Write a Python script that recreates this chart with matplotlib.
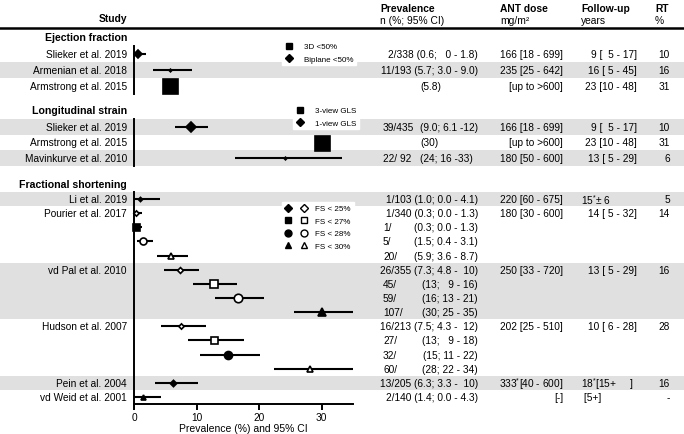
import numpy as np
import matplotlib.pyplot as plt
from matplotlib.lines import Line2D
from matplotlib.patches import Rectangle
from matplotlib.legend_handler import HandlerTuple
from matplotlib.transforms import blended_transform_factory

plt.rcParams['font.family'] = ['Liberation Sans', 'DejaVu Sans']
plt.rcParams['mathtext.fontset'] = 'custom'
plt.rcParams['mathtext.rm'] = 'Liberation Sans'
plt.rcParams['mathtext.it'] = 'Liberation Sans:italic'
plt.rcParams['mathtext.bf'] = 'Liberation Sans:bold'

# ---------------- data ----------------
# Ejection fraction
ef_study = ["Slieker et al. 2019", "Armenian et al. 2018", "Armstrong et al. 2015"]
ef_prev = [0.6, 5.8, 5.8]
ef_lo = [0.0, 3.0, np.nan]
ef_hi = [1.9, 9.2, np.nan]
ef_n = ["2/338", "11/193", ""]
ef_ci = ["(0.6;   0 - 1.8)", "(5.7; 3.0 - 9.0)", "(5.8)"]
ef_dose = ["166 [18 - 699]", "235 [25 - 642]", "[up to >600]"]
ef_fu = ["9 [  5 - 17]", "16 [ 5 - 45]", "23 [10 - 48]"]
ef_rt = ["10", "16", "31"]

# Longitudinal strain
ls_study = ["Slieker et al. 2019", "Armstrong et al. 2015", "Mavinkurve et al. 2010"]
ls_prev = [9.1, 30.0, 24.1]
ls_lo = [6.5, np.nan, 16.1]
ls_hi = [11.8, np.nan, 33.2]
ls_n = ["39/435", "", "22/ 92"]
ls_ci = ["(9.0; 6.1 -12)", "(30)", "(24; 16 -33)"]
ls_dose = ["166 [18 - 699]", "[up to >600]", "180 [50 - 600]"]
ls_fu = ["9 [  5 - 17]", "23 [10 - 48]", "13 [ 5 - 29]"]
ls_rt = ["10", "31", "6"]

# Fractional shortening
fs_study = ["Li et al. 2019", "Pourier et al. 2017", "", "", "",
            "vd Pal et al. 2010", "", "", "",
            "Hudson et al. 2007", "", "", "",
            "Pein et al. 2004", "vd Weid et al. 2001"]
fs_prev = [1.0, 0.3, 0.3, 1.5, 5.9, 7.3, 12.8, 16.6, 30.0,
           7.5, 12.8, 15.0, 28.2, 6.3, 1.4]
fs_lo = [0.0, 0.0, 0.0, 0.4, 3.6, 4.8, 9.4, 13.0, 25.5,
         4.3, 8.6, 10.5, 22.4, 3.4, 0.0]
fs_hi = [4.1, 1.3, 1.3, 3.1, 8.7, 10.4, 16.4, 20.7, 35.0,
         11.5, 17.5, 20.2, 35.0, 10.2, 4.3]
fs_cutoff = [25, 25, 27, 28, 30, 25, 27, 28, 30, 25, 27, 28, 30, 25, 30]
fs_n = ["1/103", "1/340", "1/", "5/", "20/", "26/355", "45/", "59/", "107/",
        "16/213", "27/", "32/", "60/", "13/205", "2/140"]
fs_ci = ["(1.0; 0.0 - 4.1)", "(0.3; 0.0 - 1.3)", "(0.3; 0.0 - 1.3)",
         "(1.5; 0.4 - 3.1)", "(5.9; 3.6 - 8.7)", "(7.3; 4.8 -  10)",
         "(13;   9 - 16)", "(16; 13 - 21)", "(30; 25 - 35)",
         "(7.5; 4.3 -  12)", "(13;   9 - 18)", "(15; 11 - 22)",
         "(28; 22 - 34)", "(6.3; 3.3 -  10)", "(1.4; 0.0 - 4.3)"]
fs_dose = ["220 [60 - 675]", "180 [30 - 600]", "", "", "",
           "250 [33 - 720]", "", "", "", "202 [25 - 510]", "", "", "",
           r"333$^{*}$[40 - 600]", "[-]"]
fs_fu = [r"15$^{*}$± 6", "14 [ 5 - 32]", "", "", "", "13 [ 5 - 29]", "", "", "",
         "10 [ 6 - 28]", "", "", "", r"18$^{*}$[15+     ]", " [5+]"]
fs_rt = ["5", "14", "", "", "", "16", "", "", "", "28", "", "", "", "16", "-"]

# ---------------- styles ----------------
W, H = 684, 435
band = '#e0e0e0'
FS_TXT = 7.3
ef_marker, ef_filled, ef_size = ["D", "D", "s"], [1, 1, 1], [7.5, 2.5, 15]
ls_marker, ls_filled, ls_size = ["D", "s", "D"], [1, 1, 1], [8.5, 15, 2.5]
cut_marker = {25: "D", 27: "s", 28: "o", 30: "^"}
fs_marker = [cut_marker[c] for c in fs_cutoff]
fs_filled = [1, 0, 1, 0, 0, 0, 0, 0, 1, 0, 0, 1, 0, 1, 1]
fs_size = [4, 5, 7, 7, 6.5, 5.5, 7.5, 8.5, 8.5, 5, 7, 8, 6, 6, 5]
ef_shade = [0, 1, 0]
ls_shade = [1, 0, 1]
fs_shade = [1, 0, 0, 0, 0, 1, 1, 1, 1, 0, 0, 0, 0, 1, 0]

fig = plt.figure(figsize=(W / 100, H / 100), dpi=100)


def panel(top, bottom):
    return fig.add_axes([134 / W, 1 - bottom / H, (353 - 134) / W, (bottom - top) / H])


def draw(ax, title, study, prev, lo, hi, n, ci, dose, fu, rt,
         marker, filled, size, shade, ci_left=False):
    tr = blended_transform_factory(fig.transFigure, ax.transData)
    txt = dict(transform=tr, va='center', fontsize=FS_TXT)
    for i in range(len(study)):
        if shade[i]:
            ax.add_patch(Rectangle((0, i - 0.5), 1, 1, transform=tr, color=band,
                                   lw=0, zorder=0, clip_on=False))
        if not np.isnan(lo[i]):
            ax.hlines(i, lo[i], hi[i], color='black', lw=1.5, zorder=2, clip_on=False)
        ms = size[i] * 0.72
        if marker[i] == 'D':
            ms *= 0.75
        ax.plot(prev[i], i, marker=marker[i], ms=ms, color='black',
                mfc='black' if filled[i] else 'white', mec='black',
                mew=1.2, linestyle='none', zorder=3, clip_on=False)
        ax.text(127 / W, i, study[i], ha='right', **txt)
        if ci_left or n[i] == "":
            ax.text(383 / W, i, n[i], ha='left', **txt)
            ax.text(420 / W, i, ci[i], ha='left', **txt)
        elif n[i].endswith('/'):
            ax.text(383 / W, i, n[i], ha='left', **txt)
            ax.text(478 / W, i, ci[i], ha='right', **txt)
        else:
            ax.text(478 / W, i, n[i] + " " + ci[i], ha='right', **txt)
        ax.text(563 / W, i, dose[i], ha='right', **txt)
        if '-' in fu[i] and '[' in fu[i]:
            ax.text(637 / W, i, fu[i], ha='right', **txt)
        else:
            ax.text(581 / W, i, fu[i], ha='left', **txt)
        ax.text(670 / W, i, rt[i], ha='right', **txt)
    ax.text(127 / W, -1.05, title, transform=tr, ha='right', va='center',
            fontsize=7.6, fontweight='bold')
    ax.set_xlim(0, 35)
    ax.set_ylim(len(study) - 0.5, -0.5)
    ax.patch.set_visible(False)
    for s in ['top', 'right', 'bottom']:
        ax.spines[s].set_visible(False)
    ax.spines['left'].set_linewidth(1.4)
    ax.set_yticks([])
    ax.set_xticks([])


ax_ef = panel(47, 95)
draw(ax_ef, "Ejection fraction", ef_study, ef_prev, ef_lo, ef_hi, ef_n, ef_ci,
     ef_dose, ef_fu, ef_rt, ef_marker, ef_filled, ef_size, ef_shade)
ax_ls = panel(120, 167)
draw(ax_ls, "Longitudinal strain", ls_study, ls_prev, ls_lo, ls_hi, ls_n, ls_ci,
     ls_dose, ls_fu, ls_rt, ls_marker, ls_filled, ls_size, ls_shade, ci_left=True)
ax_fs = panel(193, 405)
draw(ax_fs, "Fractional shortening", fs_study, fs_prev, fs_lo, fs_hi, fs_n, fs_ci,
     fs_dose, fs_fu, fs_rt, fs_marker, fs_filled, fs_size, fs_shade)

ax_fs.spines['bottom'].set_visible(True)
ax_fs.spines['bottom'].set_linewidth(1.4)
ax_fs.set_xticks([0, 10, 20, 30])
ax_fs.tick_params(axis='x', length=4, width=1.4, labelsize=7.3, pad=2)
ax_fs.set_xlabel("Prevalence (%) and 95% CI", fontsize=7.5, labelpad=0.5)

# legends
leg_kw = dict(loc='upper left', bbox_transform=fig.transFigure, frameon=True,
              fancybox=False, framealpha=1, edgecolor='white', facecolor='white',
              borderpad=0.35, borderaxespad=0, labelspacing=0.55, fontsize=5.8,
              handletextpad=1.4)


def mk(m, filled, ms):
    return Line2D([], [], marker=m, ms=ms, linestyle='none', color='black',
                  mfc='black' if filled else 'white', mec='black', mew=1.0)


ax_ef.legend([mk('s', 1, 5), mk('D', 1, 4)], ["3D <50%", "Biplane <50%"],
             bbox_to_anchor=(282 / W, 1 - 41 / H), handlelength=1.0, **leg_kw)
ax_ls.legend([mk('s', 1, 5), mk('D', 1, 4)], ["3-view GLS", "1-view GLS"],
             bbox_to_anchor=(293 / W, 1 - 105 / H), handlelength=1.0, **leg_kw)
fs_handles = [(mk(cut_marker[c], 1, 4.5 if c == 25 else 5),
               mk(cut_marker[c], 0, 4.5 if c == 25 else 5)) for c in [25, 27, 28, 30]]
ax_fs.legend(fs_handles, ["FS < 25%", "FS < 27%", "FS < 28%", "FS < 30%"],
             bbox_to_anchor=(282 / W, 1 - 203 / H), handlelength=2.8,
             handler_map={tuple: HandlerTuple(ndivide=None, pad=1.1)},
             **{**leg_kw, 'labelspacing': 0.6, 'handletextpad': 1.0})

# header
fig.add_artist(Line2D([0, 1], [1 - 29 / H, 1 - 29 / H], transform=fig.transFigure,
                      color='black', lw=1.8))
hdr = dict(fontsize=7.4, va='center')
fig.text(127 / W, 1 - 19 / H, "Study", ha='right', fontweight='bold', **hdr)
fig.text(380 / W, 1 - 9 / H, "Prevalence", ha='left', fontweight='bold', **hdr)
fig.text(380 / W, 1 - 21 / H, "n (%; 95% CI)", ha='left', **hdr)
fig.text(500 / W, 1 - 9 / H, "ANT dose", ha='left', fontweight='bold', **hdr)
fig.text(500 / W, 1 - 21 / H, "mg/m²", ha='left', **hdr)
fig.text(581 / W, 1 - 9 / H, "Follow-up", ha='left', fontweight='bold', **hdr)
fig.text(581 / W, 1 - 21 / H, "years", ha='left', **hdr)
fig.text(655 / W, 1 - 9 / H, "RT", ha='left', fontweight='bold', **hdr)
fig.text(655 / W, 1 - 21 / H, "%", ha='left', **hdr)

fig.savefig("out.png", dpi=100)
